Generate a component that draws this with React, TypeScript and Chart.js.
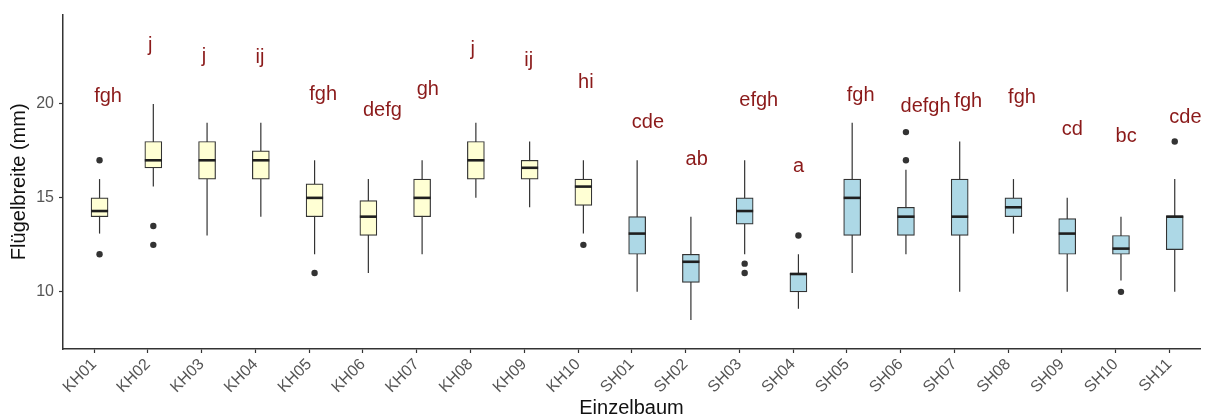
import React, { useEffect, useRef } from 'react';
import { Chart, registerables } from 'chart.js';

Chart.register(...registerables);

// ---- data ----
const categories = [
  'KH01', 'KH02', 'KH03', 'KH04', 'KH05', 'KH06', 'KH07', 'KH08', 'KH09', 'KH10',
  'SH01', 'SH02', 'SH03', 'SH04', 'SH05', 'SH06', 'SH07', 'SH08', 'SH09', 'SH10', 'SH11',
];
const groups = [
  'KH', 'KH', 'KH', 'KH', 'KH', 'KH', 'KH', 'KH', 'KH', 'KH',
  'SH', 'SH', 'SH', 'SH', 'SH', 'SH', 'SH', 'SH', 'SH', 'SH', 'SH',
];
const whiskerLow = [13.1, 15.6, 13.0, 14.0, 12.0, 11.0, 12.0, 15.0, 14.5, 13.1, 10.0, 8.5, 12.0, 9.1, 11.0, 12.0, 10.0, 13.1, 10.0, 10.6, 10.0];
const q1 = [14.0, 16.6, 16.0, 16.0, 14.0, 13.0, 14.0, 16.0, 16.0, 14.6, 12.0, 10.5, 13.6, 10.0, 13.0, 13.0, 13.0, 14.0, 12.0, 12.0, 12.25];
const median = [14.3, 17.0, 17.0, 17.0, 15.0, 14.0, 15.0, 17.0, 16.6, 15.6, 13.1, 11.6, 14.3, 10.95, 15.0, 14.0, 14.0, 14.5, 13.1, 12.3, 14.0];
const q3 = [15.0, 18.0, 18.0, 17.5, 15.75, 14.85, 16.0, 18.0, 17.0, 16.0, 14.0, 12.0, 15.0, 11.0, 16.0, 14.5, 16.0, 15.0, 13.9, 13.0, 14.05];
const whiskerHigh = [16.0, 20.0, 19.0, 19.0, 17.0, 16.0, 17.0, 19.0, 18.0, 17.0, 17.0, 14.0, 17.0, 12.0, 19.0, 16.5, 18.0, 16.0, 15.0, 14.0, 16.0];
const outliers: number[][] = [
  [17, 12], [13.5, 12.5], [], [], [11], [], [], [], [], [12.5],
  [], [], [11.5, 11], [13], [], [17, 18.5], [], [], [], [10], [18],
];
const letters = [
  'fgh', 'j', 'j', 'ij', 'fgh', 'defg', 'gh', 'j', 'ij', 'hi',
  'cde', 'ab', 'efgh', 'a', 'fgh', 'defgh', 'fgh', 'fgh', 'cd', 'bc', 'cde',
];
const letterY = [20.08, 22.8, 22.24, 22.2, 20.2, 19.36, 20.48, 22.59, 22.01, 20.86, 18.73, 16.75, 19.89, 16.36, 20.16, 19.59, 19.84, 20.04, 18.34, 17.95, 18.98];
const yTicks = [10, 15, 20];

// ---- styles ----
const FONT = '"Liberation Sans", Arial, sans-serif';
const FILL: Record<string, string> = { KH: '#FFFFD4', SH: '#ADD8E6' };
const BOX_SHIFT = 0.1; // boxes sit slightly right of their tick
const BOX_WIDTH = 17;

const boxParts = {
  id: 'boxParts',
  beforeDatasetsDraw(chart: any) {
    const { ctx, scales } = chart;
    const x = scales.x;
    const y = scales.y;
    ctx.save();
    ctx.strokeStyle = '#333333';
    ctx.lineWidth = 1.2;
    categories.forEach((_, i) => {
      const px = x.getPixelForValue(i + BOX_SHIFT);
      ctx.beginPath();
      ctx.moveTo(px, y.getPixelForValue(whiskerLow[i]));
      ctx.lineTo(px, y.getPixelForValue(whiskerHigh[i]));
      ctx.stroke();
    });
    ctx.restore();
  },
  afterDatasetsDraw(chart: any) {
    const { ctx, scales } = chart;
    const x = scales.x;
    const y = scales.y;
    ctx.save();
    ctx.strokeStyle = '#1f1f1f';
    ctx.lineWidth = 2.6;
    categories.forEach((_, i) => {
      const px = x.getPixelForValue(i + BOX_SHIFT);
      const py = y.getPixelForValue(median[i]);
      ctx.beginPath();
      ctx.moveTo(px - BOX_WIDTH / 2, py);
      ctx.lineTo(px + BOX_WIDTH / 2, py);
      ctx.stroke();
    });
    ctx.fillStyle = '#8B1A1A';
    ctx.font = `20px ${FONT}`;
    ctx.textAlign = 'left';
    ctx.textBaseline = 'alphabetic';
    letters.forEach((t, i) => {
      ctx.fillText(t, x.getPixelForValue(i), y.getPixelForValue(letterY[i]));
    });
    ctx.restore();
  },
};

export default function App() {
  const ref = useRef<HTMLCanvasElement | null>(null);

  useEffect(() => {
    document.body.style.margin = '0';
    const canvas = ref.current;
    if (!canvas) return;

    const outlierPoints: { x: number; y: number }[] = [];
    outliers.forEach((list, i) => list.forEach((v) => outlierPoints.push({ x: i + BOX_SHIFT, y: v })));

    const chart = new Chart(canvas, {
      type: 'bar',
      data: {
        datasets: [
          {
            type: 'bar',
            data: categories.map((_, i) => ({ x: i + BOX_SHIFT, y: [q1[i], q3[i]] })) as any,
            backgroundColor: groups.map((g) => FILL[g]),
            borderColor: '#333333',
            borderWidth: 1.2,
            borderSkipped: false,
            barThickness: BOX_WIDTH,
            grouped: false,
            order: 2,
          } as any,
          {
            type: 'scatter',
            data: outlierPoints,
            backgroundColor: '#333333',
            borderWidth: 0,
            pointRadius: 3.2,
            pointHoverRadius: 3.2,
            order: 1,
          } as any,
        ],
      },
      options: {
        responsive: false,
        animation: false,
        devicePixelRatio: 1,
        events: [],
        layout: { padding: { top: 13, right: 7, left: 0, bottom: 0 } },
        plugins: { legend: { display: false }, tooltip: { enabled: false } },
        scales: {
          x: {
            type: 'linear',
            min: -0.58,
            max: 20.57,
            offset: false,
            afterBuildTicks: (s: any) => {
              s.ticks = categories.map((_, i) => ({ value: i }));
            },
            afterFit: (s: any) => {
              s.height = 70;
            },
            grid: {
              display: true,
              drawOnChartArea: false,
              drawTicks: true,
              tickLength: 4,
              tickColor: '#333333',
              tickWidth: 1.2,
              offset: false,
            },
            border: { display: true, color: '#333333', width: 1.5 },
            ticks: {
              autoSkip: false,
              maxRotation: 45,
              minRotation: 45,
              padding: 2,
              color: '#555555',
              font: { family: FONT, size: 16 },
              callback: (v: any) => categories[Math.round(Number(v))] ?? '',
            },
            title: {
              display: true,
              text: 'Einzelbaum',
              color: '#111111',
              font: { family: FONT, size: 20, lineHeight: 1.1 },
              padding: 0,
            },
          } as any,
          y: {
            type: 'linear',
            min: 6.96,
            max: 24.75,
            afterBuildTicks: (s: any) => {
              s.ticks = yTicks.map((v) => ({ value: v }));
            },
            afterFit: (s: any) => {
              s.width = 63;
            },
            grid: {
              display: true,
              drawOnChartArea: false,
              drawTicks: true,
              tickLength: 4,
              tickColor: '#333333',
              tickWidth: 1.2,
            },
            border: { display: true, color: '#333333', width: 1.5 },
            ticks: {
              padding: 5,
              color: '#555555',
              font: { family: FONT, size: 16 },
            },
            title: {
              display: true,
              text: 'Flügelbreite (mm)',
              color: '#111111',
              font: { family: FONT, size: 20, lineHeight: 1.2 },
              padding: { top: 7.5, bottom: 0 },
            },
          } as any,
        },
      },
      plugins: [boxParts],
    });

    return () => chart.destroy();
  }, []);

  return (
    <div style={{ width: 1207, height: 419 }}>
      <canvas ref={ref} width={1207} height={419} style={{ display: 'block', width: 1207, height: 419 }} />
    </div>
  );
}
